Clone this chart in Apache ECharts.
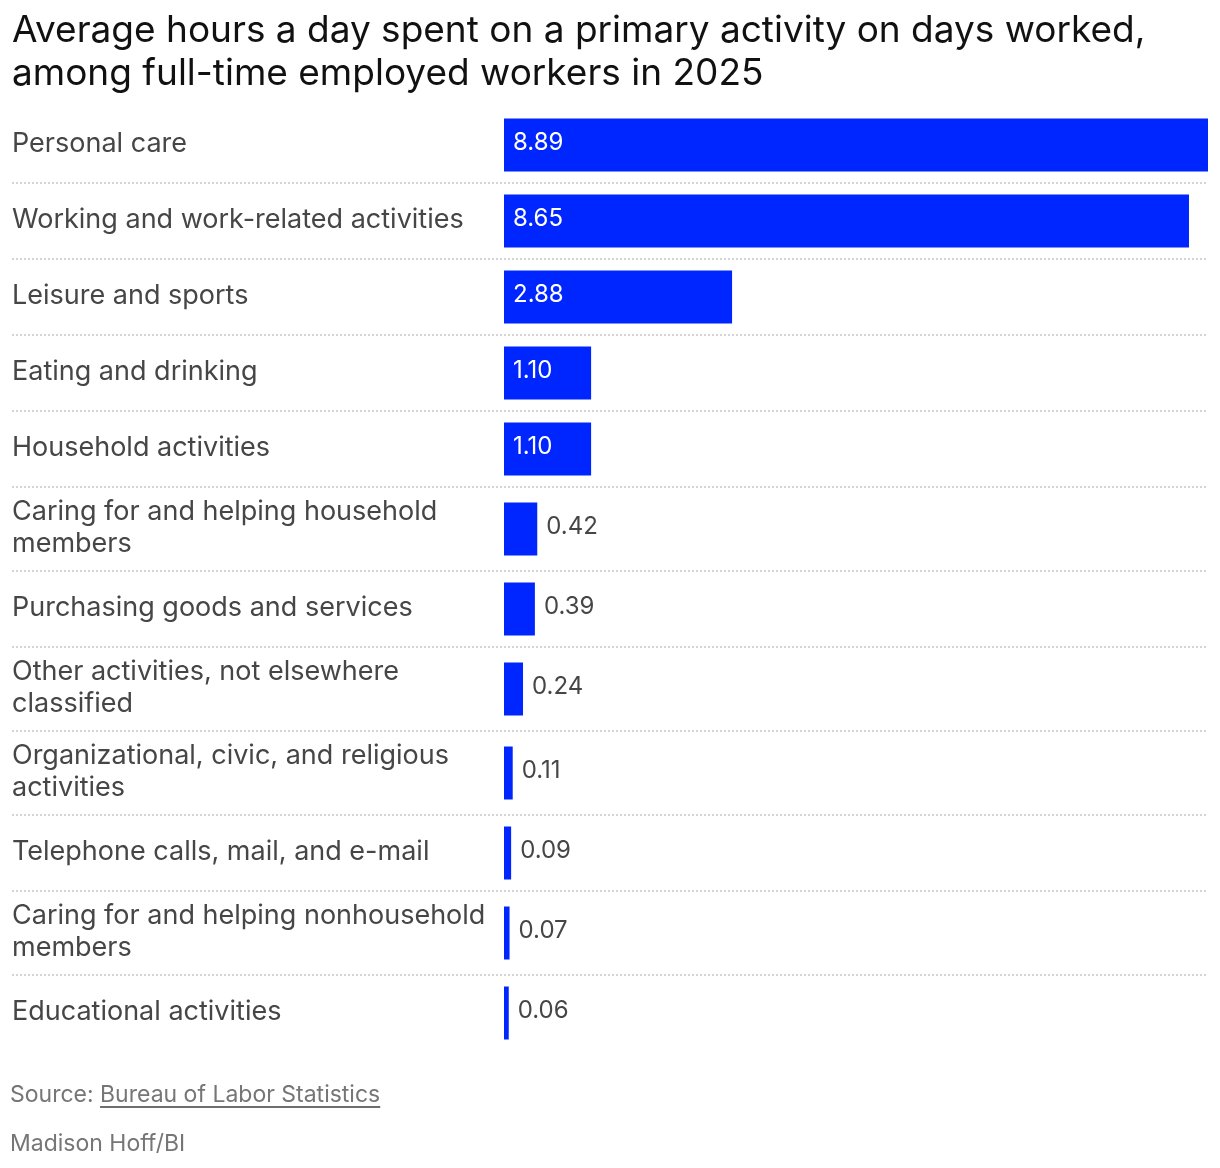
<!DOCTYPE html>
<html>
<head>
<meta charset="utf-8">
<script src="https://cdn.jsdelivr.net/npm/echarts@6/dist/echarts.min.js"></script>
<style>
html, body { margin: 0; padding: 0; background: #fff; }
#draw { width: 1220px; height: 1168px; }
</style>
</head>
<body>
<div id="draw"></div>
<script>
// data
var categories = [
	'Personal care',
	'Working and work-related activities',
	'Leisure and sports',
	'Eating and drinking',
	'Household activities',
	'Caring for and helping household\nmembers',
	'Purchasing goods and services',
	'Other activities, not elsewhere\nclassified',
	'Organizational, civic, and religious\nactivities',
	'Telephone calls, mail, and e-mail',
	'Caring for and helping nonhousehold\nmembers',
	'Educational activities'
];
var hours = [8.89, 8.65, 2.88, 1.10, 1.10, 0.42, 0.39, 0.24, 0.11, 0.09, 0.07, 0.06];
var titleLines = [
	'Average hours a day spent on a primary activity on days worked,',
	'among full-time employed workers in 2025'
];
var sourcePrefix = 'Source: ';
var sourceName = 'Bureau of Labor Statistics';
var credit = 'Madison Hoff/BI';

var FONT = 'Inter, "Noto Sans", sans-serif';
var BLUE = '#0026ff';
var TEXT = '#464646';
var GREY = '#767676';

// rows with a wrapped label are a bit taller
var rowHeights = categories.map(function(c) {
	return c.split('\n').length > 1 ? 84 : 76;
});
var rowCenters = [];
var total = 0;
rowHeights.forEach(function(h) {
	rowCenters.push(total + h / 2);
	total += h;
});

var rows = hours.map(function(v, i) {
	return [v, rowCenters[i], rowHeights[i]];
});

function renderRow(params, api) {
	var i = params.dataIndex;
	var value = api.value(0);
	var yc = api.value(1);
	var rh = api.value(2);
	var start = api.coord([0, yc]);
	var end = api.coord([value, yc]);
	var barH = api.size([0, 53])[1];
	var cs = params.coordSys;
	var inside = value >= 1;
	var children = [ {
		type : 'rect',
		shape : {
			x : start[0],
			y : start[1] - barH / 2,
			width : Math.max(end[0] - start[0], 4),
			height : barH
		},
		style : {
			fill : BLUE
		}
	}, {
		type : 'text',
		style : {
			text : value.toFixed(2),
			x : inside ? start[0] + 9 : Math.max(end[0], start[0] + 4) + 9,
			y : start[1] - 2,
			verticalAlign : 'middle',
			align : 'left',
			fill : inside ? '#fff' : TEXT,
			fontSize : 24,
			fontFamily : FONT
		}
	}, {
		type : 'text',
		style : {
			text : categories[i],
			x : 12,
			y : start[1] - 1.5,
			verticalAlign : 'middle',
			align : 'left',
			fill : TEXT,
			fontSize : 27,
			lineHeight : 32,
			fontFamily : FONT
		}
	} ];
	if (i < categories.length - 1) {
		var lineY = api.coord([0, yc + rh / 2])[1];
		children.push({
			type : 'line',
			shape : {
				x1 : 12,
				y1 : lineY,
				x2 : cs.x + cs.width,
				y2 : lineY
			},
			style : {
				stroke : '#d4d4d4',
				lineWidth : 2,
				lineDash : [ 2, 2 ]
			}
		});
	}
	return {
		type : 'group',
		children : children
	};
}

// measure the linked part of the source line for the underline
var ctx = document.createElement('canvas').getContext('2d');
ctx.font = '23px ' + FONT;
var prefixW = ctx.measureText(sourcePrefix).width;
var nameW = ctx.measureText(sourceName).width;

var myChart = echarts.init(document.getElementById('draw'));
var option = {
	animation : false,
	title : {
		text : titleLines.join('\n'),
		left : 12,
		top : 9,
		padding : 0,
		textStyle : {
			fontSize : 37,
			lineHeight : 43,
			fontWeight : 'normal',
			color : '#111',
			fontFamily : FONT
		}
	},
	grid : {
		left : 504,
		right : 12,
		top : 107,
		height : total
	},
	xAxis : {
		type : 'value',
		min : 0,
		max : 8.89,
		show : false
	},
	yAxis : {
		type : 'value',
		min : 0,
		max : total,
		inverse : true,
		show : false
	},
	series : [ {
		type : 'custom',
		renderItem : renderRow,
		data : rows,
		encode : {
			x : 0,
			y : 1
		}
	} ],
	graphic : [ {
		type : 'text',
		x : 10,
		y : 1095,
		style : {
			text : sourcePrefix + sourceName,
			verticalAlign : 'middle',
			fill : GREY,
			fontSize : 23,
			fontFamily : FONT
		}
	}, {
		type : 'rect',
		shape : {
			x : 10 + prefixW,
			y : 1106,
			width : nameW,
			height : 2
		},
		style : {
			fill : '#6e6e6e'
		}
	}, {
		type : 'text',
		x : 10,
		y : 1144,
		style : {
			text : credit,
			verticalAlign : 'middle',
			fill : GREY,
			fontSize : 23,
			fontFamily : FONT
		}
	} ]
};
myChart.setOption(option);
</script>
</body>
</html>
